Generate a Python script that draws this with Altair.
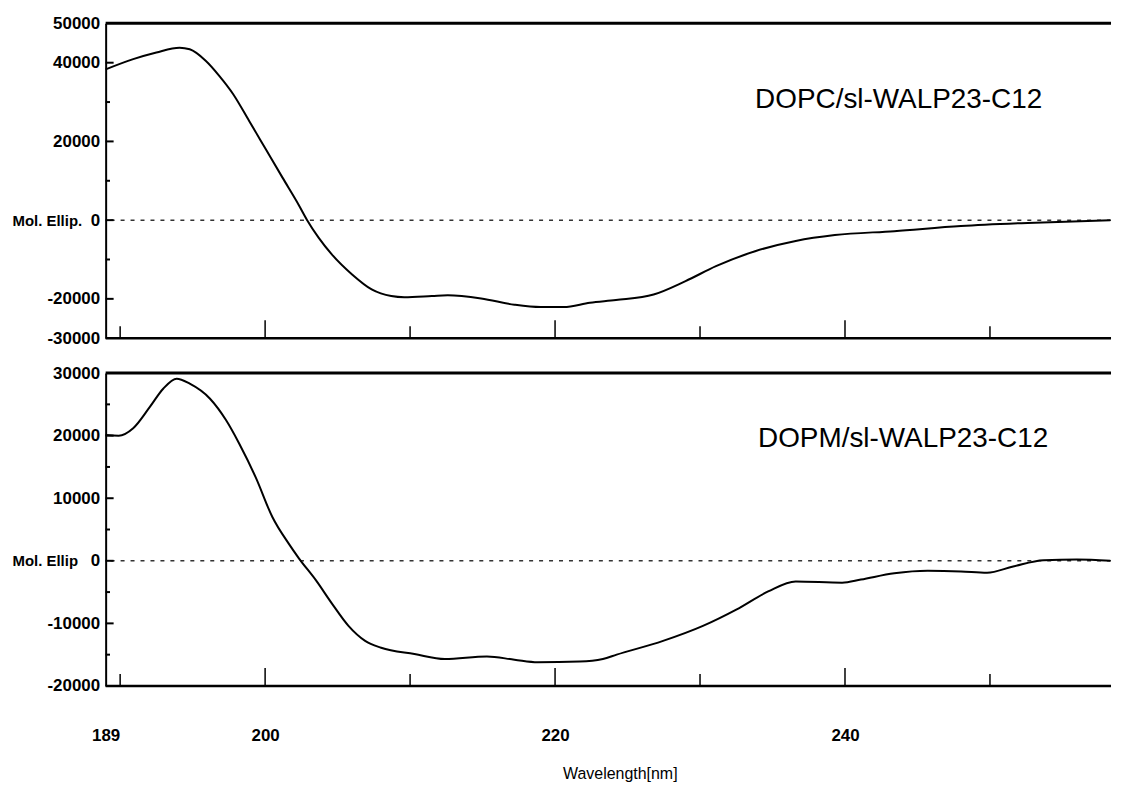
import altair as alt
import pandas as pd

# ---------------- data ----------------
# Top panel: DOPC/sl-WALP23-C12
top_wl = [189.0, 190.9, 192.5, 194.1, 194.8, 195.9, 196.85, 197.8, 198.9, 200.05,
          201.2, 202.3, 202.9, 203.7, 204.6, 206.0, 207.35, 208.7, 209.6, 211.5,
          212.6, 214.9, 217.2, 219.0, 220.6, 222.4, 224.2, 226.8, 229.0, 231.1,
          233.8, 236.6, 239.3, 243.4, 248.0, 252.6, 258.3]
top_val = [38300, 40900, 42600, 43800, 43400, 40500, 36600, 32000, 25200, 18000,
           10800, 4000, 0, -4500, -8700, -13800, -17600, -19300, -19600, -19300,
           -19100, -19900, -21500, -22100, -22100, -21000, -20300, -18900, -15500, -11700,
           -7900, -5300, -3800, -2800, -1500, -700, 0]

# Bottom panel: DOPM/sl-WALP23-C12
bot_wl = [189.0, 189.9, 190.9, 192.05, 192.97, 193.9, 194.8, 196.2, 197.3, 198.2,
          199.36, 200.5, 201.64, 202.33, 203.5, 204.6, 205.75, 206.9, 208.0, 210.3,
          212.4, 215.3, 217.2, 218.8, 221.7, 223.3, 224.25, 227.45, 230.2, 232.5,
          234.7, 236.6, 239.8, 241.1, 243.4, 245.7, 248.0, 249.8, 251.6, 253.7,
          256.0, 258.3]
bot_val = [20100, 20000, 21200, 24600, 27500, 29100, 28300, 25900, 22500, 18800,
           13300, 7000, 2700, 400, -3100, -6800, -10400, -12800, -13900, -14900,
           -15700, -15300, -15800, -16200, -16100, -15700, -15000, -12800, -10400, -7800,
           -4900, -3300, -3500, -3000, -2000, -1600, -1700, -1900, -900, 100,
           200, 0]

panel_labels = ["DOPC/sl-WALP23-C12", "DOPM/sl-WALP23-C12"]
label_x = [233.8, 234.0]
label_y = [30600, 19400]

top_domain = [-30000, 50000]
bot_domain = [-20000, 30000]
top_ylabels = [50000, 40000, 20000, 0, -20000, -30000]
bot_ylabels = [30000, 20000, 10000, 0, -10000, -20000]
top_ymajor = [40000, 20000, 0, -20000]
top_yminor = [30000, 10000, -10000]
bot_ymajor = [20000, 10000, 0, -10000]
bot_yminor = [25000, 15000, 5000, -5000, -15000]
x_labels = [189, 200, 220, 240]
x_long = [200, 220, 240]
x_short = [190, 210, 230, 250]

# ---------------- styling ----------------
W = 1009
H_TOP = 316
H_BOT = 314
X_MIN, X_MAX = 189, 258.35
SANS = "Liberation Sans, Arial, sans-serif"


def make_panel(wl, val, ydom, ylabels, ymaj, ymin_, title, H, ann_idx, xaxis,
               px_per_unit):
    xs = alt.Scale(domain=[X_MIN, X_MAX], nice=False, zero=False)
    ys = alt.Scale(domain=ydom, nice=False, zero=False)
    title_y = H * ydom[1] / (ydom[1] - ydom[0])
    yaxis = alt.Axis(values=ylabels, ticks=False, domain=True, domainColor="black",
                     domainWidth=2, labelFont=SANS, labelFontSize=17,
                     labelFontWeight="bold", labelColor="black", labelPadding=6,
                     labelFlush=False, labelOverlap=False, grid=False,
                     labelExpr="datum.value + ''",
                     title=title, titleAngle=0, titleX=-94, titleY=title_y,
                     titleAlign="left", titleBaseline="middle", titleFont=SANS,
                     titleFontSize=15, titleFontWeight="bold", titleColor="black")

    def X(f):
        return alt.X(f, type="quantitative", scale=xs, axis=xaxis)

    def Y(f):
        return alt.Y(f, type="quantitative", scale=ys, axis=yaxis)

    curve = pd.DataFrame({"wl": wl, "v": val})
    # tick tables built from the tick-value lists
    ymaj_len, ymin_len = 0.55, 0.3
    ytick_df = pd.DataFrame({
        "v": ymaj + ymin_,
        "x0": [X_MIN] * (len(ymaj) + len(ymin_)),
        "x1": [X_MIN + ymaj_len] * len(ymaj) + [X_MIN + ymin_len] * len(ymin_),
    })
    long_len = 18 * px_per_unit
    short_len = 12 * px_per_unit
    xtick_df = pd.DataFrame({
        "t": x_long + x_short,
        "y0": [ydom[0]] * (len(x_long) + len(x_short)),
        "y1": [ydom[0] + long_len] * len(x_long) + [ydom[0] + short_len] * len(x_short),
    })
    zero_df = pd.DataFrame({"v": [0]})
    top_df = pd.DataFrame({"v": [ydom[1]]})
    bottom_df = pd.DataFrame({"v": [ydom[0]]})
    ann_df = pd.DataFrame({"x": [label_x[ann_idx]], "y": [label_y[ann_idx]],
                           "t": [panel_labels[ann_idx]]})

    zero = alt.Chart(zero_df).mark_rule(strokeDash=[4, 6], strokeWidth=1.5,
                                        color="#333333").encode(y=Y("v"))
    yt = alt.Chart(ytick_df).mark_rule(strokeWidth=2, color="black").encode(
        x=X("x0"), x2=alt.X2("x1"), y=Y("v"))
    xt = alt.Chart(xtick_df).mark_rule(strokeWidth=1.5, color="black").encode(
        x=X("t"), y=Y("y0"), y2=alt.Y2("y1"))
    topline = alt.Chart(top_df).mark_rule(strokeWidth=3, color="black").encode(y=Y("v"))
    botline = alt.Chart(bottom_df).mark_rule(strokeWidth=2.5, color="black").encode(y=Y("v"))
    line = alt.Chart(curve).mark_line(color="black", strokeWidth=2,
                                      interpolate="monotone").encode(x=X("wl"), y=Y("v"))
    ann = alt.Chart(ann_df).mark_text(align="left", baseline="middle", font=SANS,
                                      fontSize=28, color="black").encode(
        x=X("x"), y=Y("y"), text="t:N")
    return alt.layer(zero, yt, xt, topline, botline, line, ann).properties(
        width=W, height=H)


bottom_xaxis = alt.Axis(values=x_labels, ticks=False, domain=False, grid=False,
                        labelFont=SANS, labelFontSize=17, labelFontWeight="bold",
                        labelColor="black", labelPadding=42, labelFlush=False,
                        labelOverlap=False, labelExpr="datum.value + ''",
                        title="Wavelength[nm]", titleFont=SANS, titleFontSize=16,
                        titleFontWeight="normal", titleColor="black", titleY=88,
                        titleX=516, titleBaseline="middle")

top = make_panel(top_wl, top_val, top_domain, top_ylabels, top_ymajor, top_yminor,
                 "Mol. Ellip.", H_TOP, 0, None,
                 (top_domain[1] - top_domain[0]) / H_TOP)
bottom = make_panel(bot_wl, bot_val, bot_domain, bot_ylabels, bot_ymajor, bot_yminor,
                    "Mol. Ellip", H_BOT, 1, bottom_xaxis,
                    (bot_domain[1] - bot_domain[0]) / H_BOT)

chart = alt.vconcat(top, bottom, spacing=35, bounds="flush").properties(
    padding={"left": 4, "top": 5, "right": 0, "bottom": 0},
    background="white",
).configure_view(stroke=None)

chart.save("out.html", embed_options={"renderer": "svg", "actions": False})
